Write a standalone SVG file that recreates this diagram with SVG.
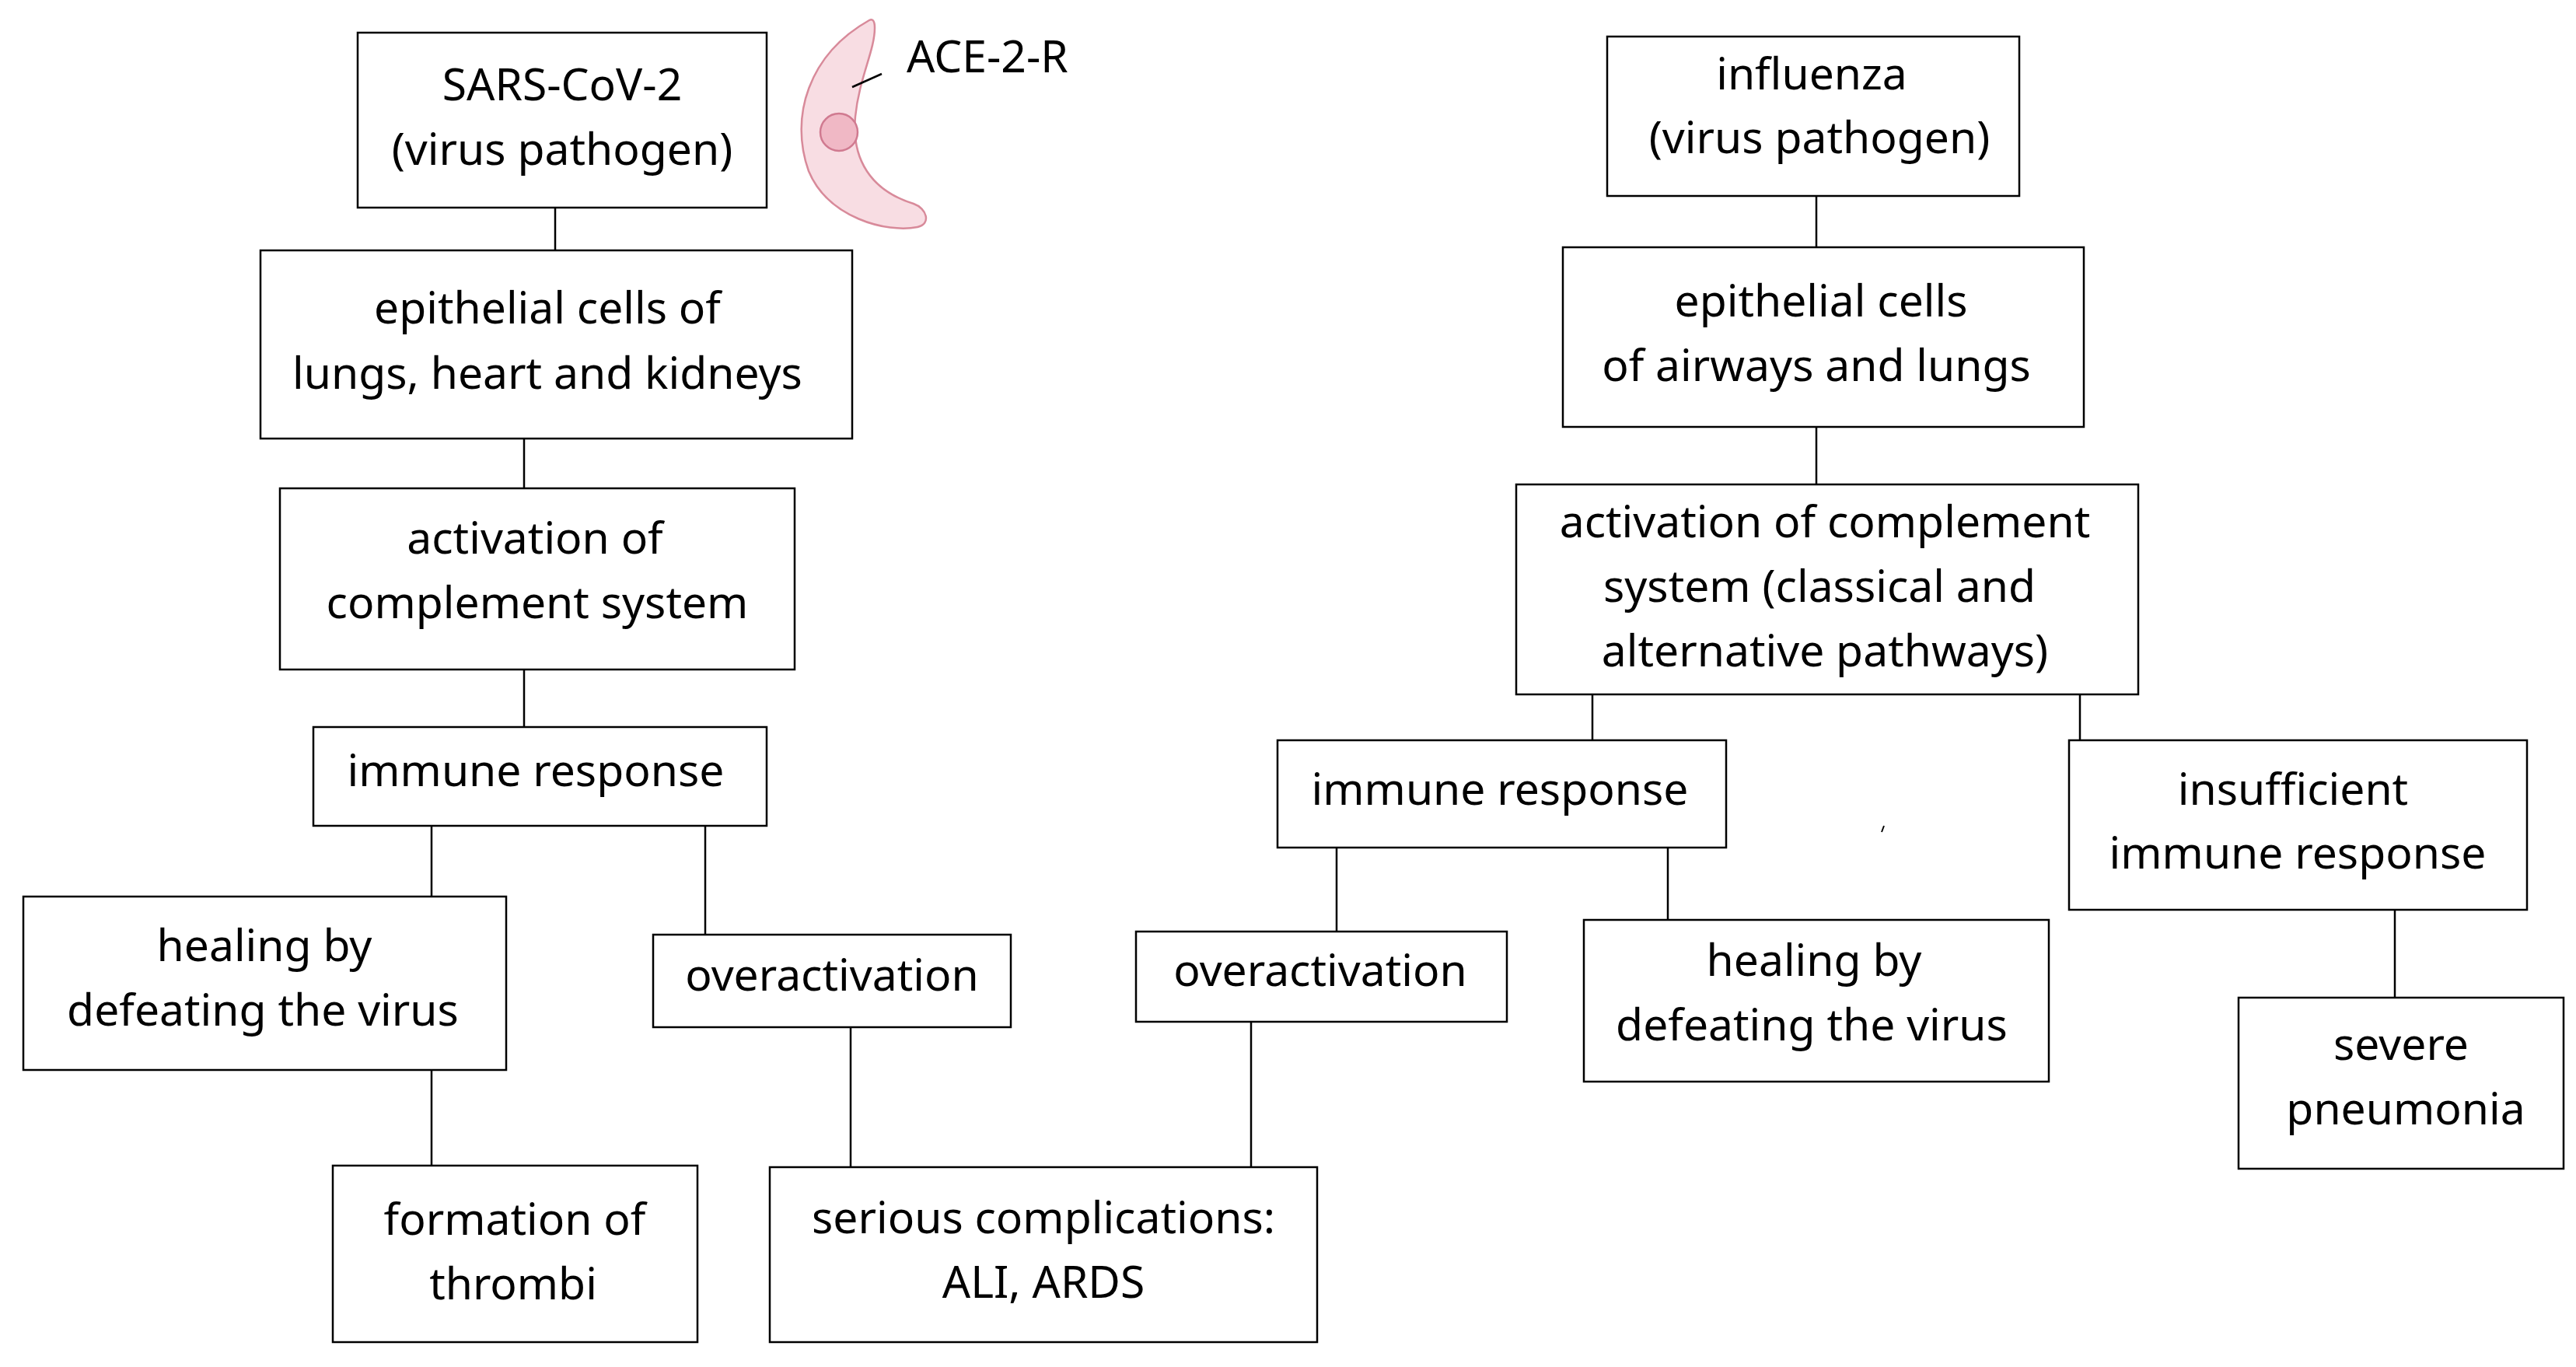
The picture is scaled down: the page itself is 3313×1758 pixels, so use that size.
<svg xmlns="http://www.w3.org/2000/svg" width="3313" height="1758" viewBox="0 0 3313 1758">
<style>
.b{fill:#fff;stroke:#000;stroke-width:2.5}
.t{font-family:"Noto Sans","Open Sans","Liberation Sans",sans-serif;font-size:57px;fill:#000;text-anchor:middle;dominant-baseline:middle}
.c line{stroke:#000;stroke-width:2.5}
</style>
<rect width="3313" height="1758" fill="#fff"/>
<g class="c" id="connectors">
<line x1="714" y1="267" x2="714" y2="322"/>
<line x1="674" y1="564" x2="674" y2="628"/>
<line x1="674" y1="861" x2="674" y2="935"/>
<line x1="555" y1="1062" x2="555" y2="1153"/>
<line x1="907" y1="1062" x2="907" y2="1202"/>
<line x1="555" y1="1376" x2="555" y2="1499"/>
<line x1="1094" y1="1321" x2="1094" y2="1501"/>
<line x1="1609" y1="1314" x2="1609" y2="1501"/>
<line x1="2336" y1="252" x2="2336" y2="318"/>
<line x1="2336" y1="549" x2="2336" y2="623"/>
<line x1="2048" y1="893" x2="2048" y2="952"/>
<line x1="2675" y1="893" x2="2675" y2="952"/>
<line x1="1719" y1="1090" x2="1719" y2="1198"/>
<line x1="2145" y1="1090" x2="2145" y2="1183"/>
<line x1="3080" y1="1170" x2="3080" y2="1283"/>
</g>
<g id="cell">
<path d="M1118,26 C1040,70 1015,150 1040,220 C1065,280 1140,300 1180,292 C1198,288 1192,268 1175,262 C1120,245 1095,205 1100,150 C1105,100 1125,65 1125,36 C1125,26 1122,24 1118,26 Z" fill="#f8dde3" stroke="#d88a9a" stroke-width="2.5"/>
<circle cx="1079" cy="170" r="24" fill="#f0b8c5" stroke="#d07a90" stroke-width="2.5"/>
<line x1="1096" y1="112" x2="1134" y2="95" stroke="#000" stroke-width="2.5"/>
<text x="1166" y="78" class="t" style="text-anchor:start">ACE-2-R</text>
</g>
<g id="n1"><rect class="b" x="460" y="42" width="526" height="225"/><text class="t" x="723" y="114">SARS-CoV-2</text><text class="t" x="723" y="197">(virus pathogen)</text></g>
<g id="n2"><rect class="b" x="335" y="322" width="761" height="242"/><text class="t" x="704" y="401">epithelial cells of</text><text class="t" x="704" y="485">lungs, heart and kidneys</text></g>
<g id="n3"><rect class="b" x="360" y="628" width="662" height="233"/><text class="t" x="688" y="697">activation of</text><text class="t" x="691" y="780">complement system</text></g>
<g id="n4"><rect class="b" x="403" y="935" width="583" height="127"/><text class="t" x="689" y="996">immune response</text></g>
<g id="n5"><rect class="b" x="30" y="1153" width="621" height="223"/><text class="t" x="340" y="1221">healing by</text><text class="t" x="338" y="1304">defeating the virus</text></g>
<g id="n6"><rect class="b" x="840" y="1202" width="460" height="119"/><text class="t" x="1070" y="1259">overactivation</text></g>
<g id="n7"><rect class="b" x="428" y="1499" width="469" height="227"/><text class="t" x="662" y="1573">formation of</text><text class="t" x="660" y="1656">thrombi</text></g>
<g id="n8"><rect class="b" x="990" y="1501" width="704" height="225"/><text class="t" x="1342" y="1571">serious complications:</text><text class="t" x="1342" y="1654">ALI, ARDS</text></g>
<g id="n9"><rect class="b" x="1461" y="1198" width="477" height="116"/><text class="t" x="1698" y="1253">overactivation</text></g>
<g id="n10"><rect class="b" x="2067" y="47" width="530" height="205"/><text class="t" x="2330" y="100">influenza</text><text class="t" x="2340" y="182">(virus pathogen)</text></g>
<g id="n11"><rect class="b" x="2010" y="318" width="670" height="231"/><text class="t" x="2342" y="392">epithelial cells</text><text class="t" x="2336" y="475">of airways and lungs</text></g>
<g id="n12"><rect class="b" x="1950" y="623" width="800" height="270"/><text class="t" x="2347" y="676">activation of complement</text><text class="t" x="2340" y="759">system (classical and</text><text class="t" x="2347" y="842">alternative pathways)</text></g>
<g id="n13"><rect class="b" x="1643" y="952" width="577" height="138"/><text class="t" x="1929" y="1020">immune response</text></g>
<g id="n14"><rect class="b" x="2661" y="952" width="589" height="218"/><text class="t" x="2949" y="1020">insufficient</text><text class="t" x="2955" y="1102">immune response</text></g>
<g id="n15"><rect class="b" x="2037" y="1183" width="598" height="208"/><text class="t" x="2333" y="1240">healing by</text><text class="t" x="2330" y="1323">defeating the virus</text></g>
<g id="n16"><rect class="b" x="2879" y="1283" width="418" height="220"/><text class="t" x="3088" y="1348">severe</text><text class="t" x="3094" y="1431">pneumonia</text></g>
<line x1="2423" y1="1062" x2="2420" y2="1070" stroke="#000" stroke-width="2"/>
</svg>
